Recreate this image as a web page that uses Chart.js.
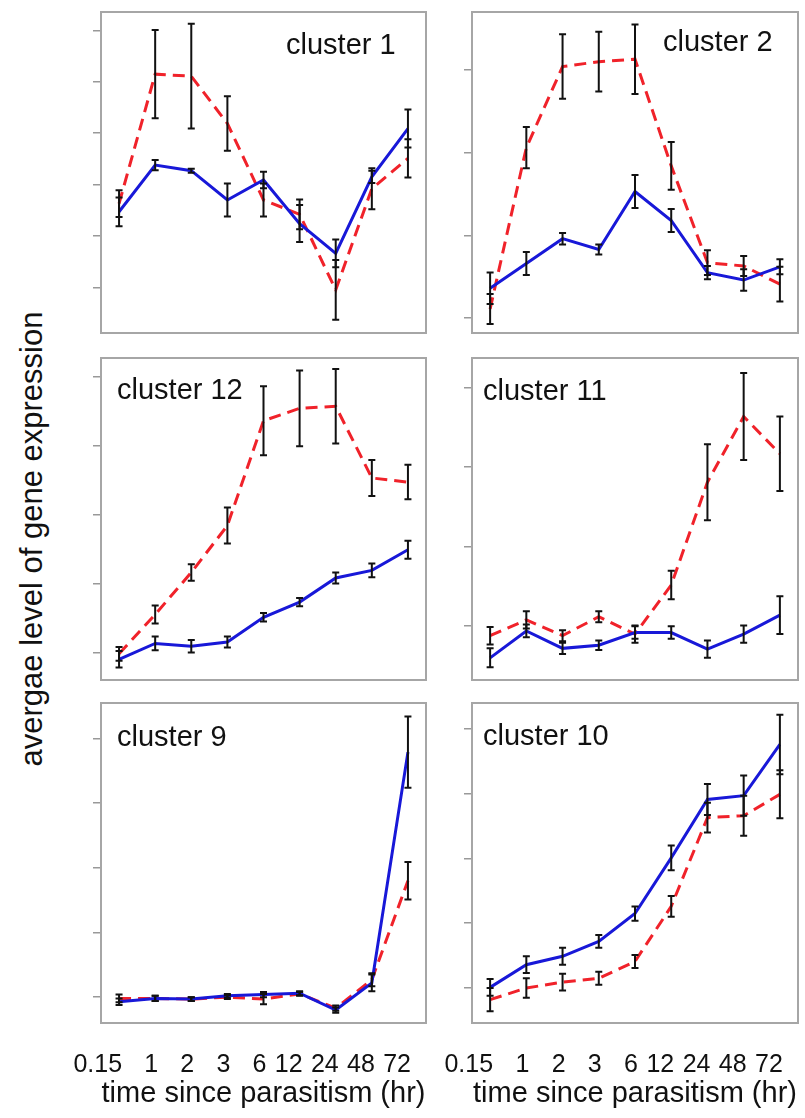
<!DOCTYPE html>
<html>
<head>
<meta charset="utf-8">
<script src="https://cdn.jsdelivr.net/npm/chart.js@4.4.1/dist/chart.umd.min.js"></script>
<style>
  body { margin: 0; background: #fff; }
  #page { position: relative; width: 805px; height: 1118px; overflow: hidden; font-family: 'Liberation Sans', Arial, sans-serif; color: #111; }
  canvas { position: absolute; }
  .lbl { position: absolute; font-size: 29px; line-height: 1; white-space: nowrap; }
  #ytitle { position: absolute; left: 31px; top: 539px; font-size: 31px; line-height: 1; white-space: nowrap;
            transform: translate(-50%, -50%) rotate(-90deg); }
</style>
</head>
<body>
<div id="page">
  <div id="ytitle">avergae level of gene expression</div>
</div>
<script>
// time points (hr), same for every panel
const timeLabels = ['0.15', '1', '2', '3', '6', '12', '24', '48', '72'];
const xTitle = 'time since parasitism (hr)';

// mean values and error half-widths (unit = one y tick step)
const c1Blue    = [1.47, 2.38, 2.27, 1.70, 2.09, 1.24, 0.66, 2.15, 3.09];
const c1BlueErr = [0.28, 0.10, 0.04, 0.32, 0.16, 0.36, 0.27, 0.12, 0.37];
const c1Red     = [1.63, 4.15, 4.11, 3.19, 1.70, 1.42, -0.05, 1.92, 2.51];
const c1RedErr  = [0.26, 0.86, 1.02, 0.53, 0.32, 0.29, 0.58, 0.40, 0.37];

const c2Blue    = [0.36, 0.66, 0.96, 0.83, 1.53, 1.18, 0.55, 0.46, 0.62];
const c2BlueErr = [0.19, 0.14, 0.07, 0.06, 0.20, 0.14, 0.08, 0.13, 0.09];
const c2Red     = [0.11, 2.06, 3.04, 3.10, 3.13, 1.84, 0.67, 0.63, 0.41];
const c2RedErr  = [0.18, 0.25, 0.39, 0.36, 0.42, 0.29, 0.15, 0.12, 0.21];

const c12Blue    = [-0.10, 0.13, 0.09, 0.15, 0.51, 0.73, 1.08, 1.19, 1.49];
const c12BlueErr = [0.12, 0.10, 0.09, 0.08, 0.06, 0.06, 0.08, 0.10, 0.13];
const c12Red     = [-0.02, 0.55, 1.16, 1.84, 3.36, 3.54, 3.57, 2.53, 2.47];
const c12RedErr  = [0.10, 0.13, 0.12, 0.26, 0.50, 0.55, 0.54, 0.26, 0.25];

const c11Blue    = [-0.41, -0.07, -0.29, -0.25, -0.09, -0.09, -0.30, -0.11, 0.13];
const c11BlueErr = [0.12, 0.08, 0.07, 0.06, 0.08, 0.08, 0.11, 0.11, 0.24];
const c11Red     = [-0.13, 0.07, -0.13, 0.11, -0.11, 0.51, 1.81, 2.64, 2.17];
const c11RedErr  = [0.11, 0.11, 0.07, 0.07, 0.11, 0.18, 0.48, 0.55, 0.47];

const c9Blue    = [-0.07, -0.02, -0.03, 0.02, 0.04, 0.06, -0.20, 0.22, 3.79];
const c9BlueErr = [0.05, 0.04, 0.03, 0.03, 0.04, 0.03, 0.04, 0.13, 0.55];
const c9Red     = [-0.02, -0.02, -0.03, 0.00, -0.03, 0.05, -0.17, 0.27, 1.80];
const c9RedErr  = [0.06, 0.04, 0.03, 0.03, 0.08, 0.03, 0.04, 0.10, 0.29];

const c10Blue    = [0.01, 0.36, 0.49, 0.72, 1.15, 2.01, 2.91, 2.97, 3.76];
const c10BlueErr = [0.13, 0.13, 0.13, 0.10, 0.11, 0.19, 0.24, 0.31, 0.46];
const c10Red     = [-0.18, 0.00, 0.09, 0.15, 0.41, 1.26, 2.63, 2.66, 2.99];
const c10RedErr  = [0.18, 0.15, 0.13, 0.10, 0.10, 0.16, 0.23, 0.31, 0.37];

// panel grid (pixels)
const colLeft = [101, 472], colRight = [426, 798];
const rowTop = [12, 358, 703], rowBottom = [333, 680, 1023];
const axisW = 12;
const labelRoom = 30; // extra canvas on the left of the bottom panels for the first tick label
const pageW = 805, pageH = 1118;
const FONT = "'Liberation Sans', Arial, sans-serif";
const BLUE = '#1818d8';
const RED = '#f0222a';

const panels = [
  { name: 'cluster 1',  col: 0, row: 0, yMin: -0.89, yMax: 5.36, blue: c1Blue,  blueErr: c1BlueErr,  red: c1Red,  redErr: c1RedErr,  lx: 286, ly: 30 },
  { name: 'cluster 2',  col: 1, row: 0, yMin: -0.18, yMax: 3.70, blue: c2Blue,  blueErr: c2BlueErr,  red: c2Red,  redErr: c2RedErr,  lx: 663, ly: 27 },
  { name: 'cluster 12', col: 0, row: 1, yMin: -0.40, yMax: 4.27, blue: c12Blue, blueErr: c12BlueErr, red: c12Red, redErr: c12RedErr, lx: 117, ly: 375 },
  { name: 'cluster 11', col: 1, row: 1, yMin: -0.69, yMax: 3.38, blue: c11Blue, blueErr: c11BlueErr, red: c11Red, redErr: c11RedErr, lx: 483, ly: 376 },
  { name: 'cluster 9',  col: 0, row: 2, yMin: -0.40, yMax: 4.55, blue: c9Blue,  blueErr: c9BlueErr,  red: c9Red,  redErr: c9RedErr,  lx: 117, ly: 722 },
  { name: 'cluster 10', col: 1, row: 2, yMin: -0.54, yMax: 4.40, blue: c10Blue, blueErr: c10BlueErr, red: c10Red, redErr: c10RedErr, lx: 483, ly: 721 }
];

// grey frame round the plot area
const panelBox = {
  id: 'panelBox',
  afterDraw(chart) {
    const { ctx, chartArea: a } = chart;
    ctx.save();
    ctx.strokeStyle = '#a6a6a6';
    ctx.lineWidth = 2;
    ctx.strokeRect(a.left, a.top, a.right - a.left, a.bottom - a.top);
    ctx.restore();
  }
};

// black error bars with small caps
const errorBars = {
  id: 'errorBars',
  afterDatasetsDraw(chart) {
    const { ctx, scales: { x, y } } = chart;
    ctx.save();
    ctx.strokeStyle = '#111';
    ctx.lineWidth = 2;
    chart.data.datasets.forEach(ds => {
      ds.errors.forEach((e, i) => {
        const px = x.getPixelForValue(i);
        const top = y.getPixelForValue(ds.data[i] + e);
        const bot = y.getPixelForValue(ds.data[i] - e);
        ctx.beginPath();
        ctx.moveTo(px, top); ctx.lineTo(px, bot);
        ctx.moveTo(px - 3.5, top); ctx.lineTo(px + 3.5, top);
        ctx.moveTo(px - 3.5, bot); ctx.lineTo(px + 3.5, bot);
        ctx.stroke();
      });
    });
    ctx.restore();
  }
};

const page = document.getElementById('page');

panels.forEach(p => {
  const bottomRow = p.row === 2;
  const leftPad = bottomRow ? labelRoom : 0;
  const rightPad = p.col === 1 ? pageW - colRight[1] : 2;
  const top = rowTop[p.row] - 2;
  const canvas = document.createElement('canvas');
  canvas.width = colRight[p.col] - colLeft[p.col] + axisW + leftPad + rightPad;
  canvas.height = bottomRow ? pageH - top : rowBottom[p.row] - rowTop[p.row] + 4;
  canvas.style.left = (colLeft[p.col] - axisW - leftPad) + 'px';
  canvas.style.top = top + 'px';
  page.appendChild(canvas);

  const lbl = document.createElement('div');
  lbl.className = 'lbl';
  lbl.textContent = p.name;
  lbl.style.left = p.lx + 'px';
  lbl.style.top = p.ly + 'px';
  page.appendChild(lbl);

  new Chart(canvas, {
    type: 'line',
    data: {
      labels: timeLabels,
      datasets: [
        { label: 'solid', data: p.blue, errors: p.blueErr, borderColor: BLUE, borderWidth: 3, pointRadius: 0, tension: 0 },
        { label: 'dashed', data: p.red, errors: p.redErr, borderColor: RED, borderWidth: 3, borderDash: [12, 7], pointRadius: 0, tension: 0 }
      ]
    },
    options: {
      responsive: false,
      animation: false,
      layout: { padding: { left: leftPad, top: 2, right: rightPad, bottom: bottomRow ? 0 : 2 } },
      plugins: { legend: { display: false }, tooltip: { enabled: false } },
      scales: {
        x: {
          offset: true,
          display: bottomRow,
          grid: { display: false, drawTicks: false },
          border: { display: false },
          ticks: { autoSkip: false, maxRotation: 0, minRotation: 0, padding: 27, align: 'end', labelOffset: 3,
                   color: '#111', font: { size: 25, family: FONT } },
          title: { display: true, text: xTitle, color: '#111', font: { size: 29, family: FONT },
                   padding: { top: 0, bottom: 7 } },
          afterFit: s => {
            s.height = bottomRow ? pageH - rowBottom[2] : 0;
            s.paddingLeft = 0;
            s.paddingRight = 0;
          }
        },
        y: {
          min: p.yMin,
          max: p.yMax,
          grid: { drawOnChartArea: false, drawTicks: true, tickLength: 8, color: '#999', lineWidth: 1.5 },
          border: { display: false },
          ticks: { display: false },
          afterBuildTicks: s => {
            const t = [];
            for (let v = Math.ceil(p.yMin); v <= Math.floor(p.yMax); v++) t.push({ value: v });
            s.ticks = t;
          },
          afterFit: s => { s.width = axisW; }
        }
      }
    },
    plugins: [panelBox, errorBars]
  });
});
</script>
</body>
</html>
